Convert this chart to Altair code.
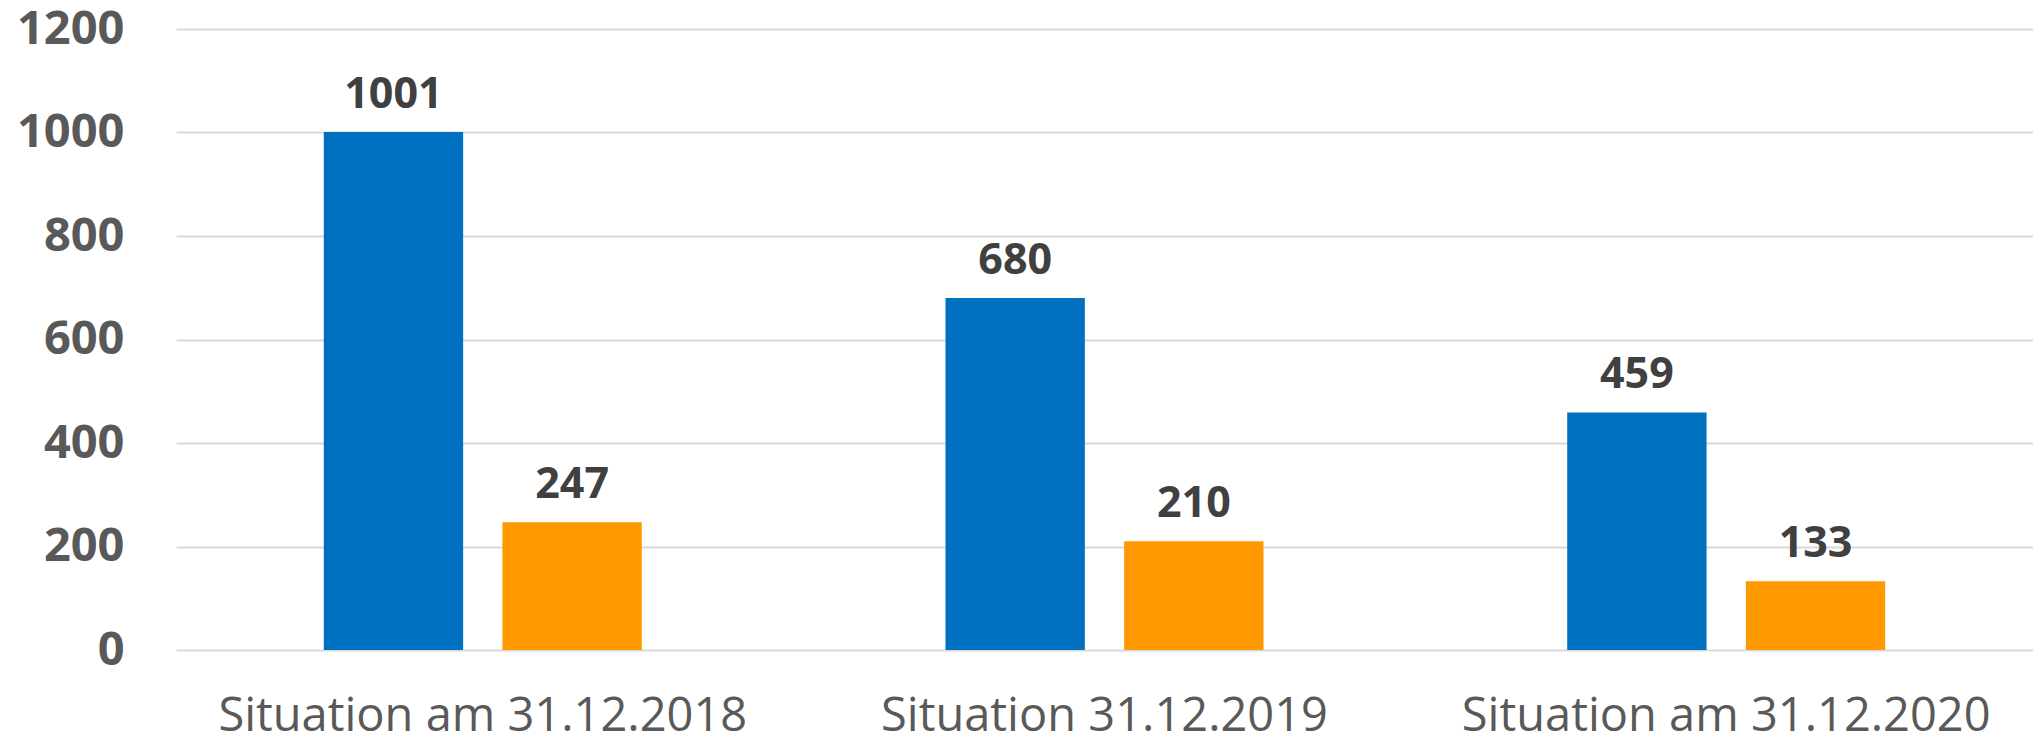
import altair as alt
import pandas as pd

categories = ["Situation am 31.12.2018", "Situation 31.12.2019", "Situation am 31.12.2020"]
series = ["Reihe 1", "Reihe 2"]
values_1 = [1001, 680, 459]
values_2 = [247, 210, 133]
y_ticks = [0, 200, 400, 600, 800, 1000, 1200]
colors = ["#0070C0", "#FF9900"]

rows = []
for c, a, b in zip(categories, values_1, values_2):
    rows.append({"cat": c, "serie": series[0], "wert": a})
    rows.append({"cat": c, "serie": series[1], "wert": b})
df = pd.DataFrame(rows)

x_enc = alt.X("cat:N", sort=categories, title=None,
              scale=alt.Scale(paddingInner=0.4885, paddingOuter=0.2377),
              axis=alt.Axis(labelAngle=0, labelFont="Open Sans", labelFontSize=47,
                            labelColor="#595959", labelPadding=43, labelLimit=0,
                            ticks=False, domain=False, grid=False))
xo_enc = alt.XOffset("serie:N", sort=series,
                     scale=alt.Scale(paddingInner=0.22, paddingOuter=0))
y_enc = alt.Y("wert:Q", title=None,
              scale=alt.Scale(domain=[0, 1200], nice=False),
              axis=alt.Axis(values=y_ticks, format="d", labelFont="Open Sans",
                            labelFontSize=47, labelFontWeight="bold",
                            labelColor="#595959", labelPadding=52, ticks=False,
                            domain=False, gridColor="#D9D9D9", gridWidth=2))

bars = alt.Chart(df).mark_bar().encode(
    x=x_enc, xOffset=xo_enc, y=y_enc,
    color=alt.Color("serie:N", sort=series,
                    scale=alt.Scale(domain=series, range=colors), legend=None),
)

labels = alt.Chart(df).mark_text(
    font="Open Sans", fontSize=43, fontWeight="bold", color="#404040",
    baseline="alphabetic", dy=-24,
).encode(
    x=alt.X("cat:N", sort=categories), xOffset=xo_enc,
    y=alt.Y("wert:Q"), text=alt.Text("wert:Q"),
)

chart = alt.layer(bars, labels).properties(
    width=1857, height=621,
    autosize=alt.AutoSizeParams(type="none"),
    padding={"left": 168, "top": 21, "right": 0, "bottom": 83},
).configure_view(stroke=None)

chart.save("out.html", embed_options={"renderer": "svg", "actions": False})
